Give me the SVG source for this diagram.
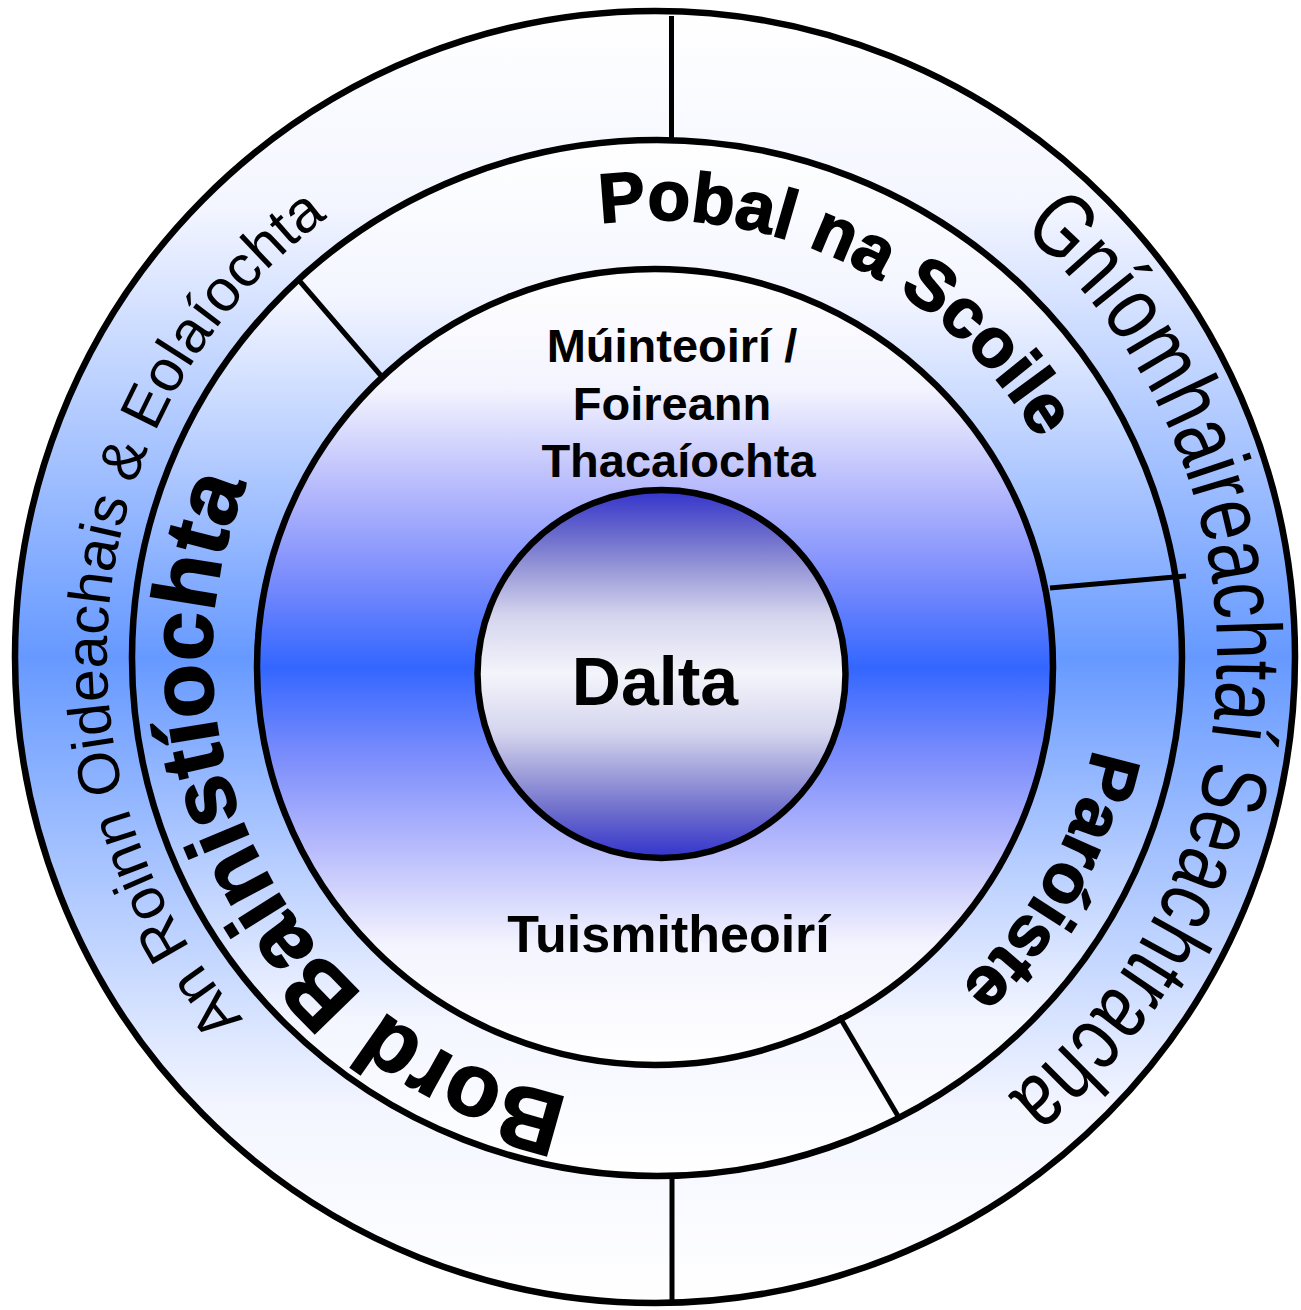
<svg xmlns="http://www.w3.org/2000/svg" xmlns:xlink="http://www.w3.org/1999/xlink" width="1301" height="1310" viewBox="0 0 1301 1310">
  <style>
    .ring { stroke: #000; stroke-width: 6.5; }
    .sep { stroke: #000; stroke-width: 5; fill: none; }
    .lbl { font-family: "Liberation Sans", Arial, sans-serif; fill: #000; }
    .bold { font-weight: bold; }
    .heavy { font-weight: bold; stroke: #000; stroke-width: 1.6; }
  </style>
  <defs>
    <linearGradient id="gOuter" x1="0" y1="0" x2="0" y2="1">
      <stop offset="0" stop-color="#ffffff"/>
      <stop offset="0.15" stop-color="#f4f6ff"/>
      <stop offset="0.5" stop-color="#6699ff"/>
      <stop offset="0.85" stop-color="#f4f6ff"/>
      <stop offset="1" stop-color="#ffffff"/>
    </linearGradient>
    <linearGradient id="gRing2" x1="0" y1="0" x2="0" y2="1">
      <stop offset="0" stop-color="#ffffff"/>
      <stop offset="0.15" stop-color="#f4f6ff"/>
      <stop offset="0.5" stop-color="#6699ff"/>
      <stop offset="0.85" stop-color="#f4f6ff"/>
      <stop offset="1" stop-color="#ffffff"/>
    </linearGradient>
    <linearGradient id="gRing3" x1="0" y1="0" x2="0" y2="1">
      <stop offset="0" stop-color="#ffffff"/>
      <stop offset="0.15" stop-color="#f4f4fe"/>
      <stop offset="0.28" stop-color="#b4b8fc"/>
      <stop offset="0.39" stop-color="#7a8cfc"/>
      <stop offset="0.5" stop-color="#3366ff"/>
      <stop offset="0.61" stop-color="#7a8cfc"/>
      <stop offset="0.72" stop-color="#b4b8fc"/>
      <stop offset="0.85" stop-color="#f4f4fe"/>
      <stop offset="1" stop-color="#ffffff"/>
    </linearGradient>
    <linearGradient id="gCore" x1="0" y1="0" x2="0" y2="1">
      <stop offset="0" stop-color="#3333cc"/>
      <stop offset="0.12" stop-color="#6a6acc"/>
      <stop offset="0.24" stop-color="#a4a4dc"/>
      <stop offset="0.34" stop-color="#d4d4ee"/>
      <stop offset="0.5" stop-color="#f4f4fb"/>
      <stop offset="0.66" stop-color="#d4d4ee"/>
      <stop offset="0.76" stop-color="#a4a4dc"/>
      <stop offset="0.88" stop-color="#6a6acc"/>
      <stop offset="1" stop-color="#3333cc"/>
    </linearGradient>
    <path id="pPobal" d="M 462.04 1054.46 A 440 440 0 1 1 851.96 265.54 A 440 440 0 1 1 462.04 1054.46"/>
    <path id="pParoiste" d="M 268.9 442.2 A 445 445 0 1 1 1045.1 877.8 A 445 445 0 1 1 268.9 442.2"/>
    <path id="pBord" d="M 1050.1 453.6 A 444 444 0 1 1 263.9 866.4 A 444 444 0 1 1 1050.1 453.6"/>
    <path id="pRoinn" d="M 1200.0 714.28 A 548 548 0 1 1 110.0 599.72 A 548 548 0 1 1 1200.0 714.28"/>
    <path id="pGniomh" d="M 93.07 648.17 A 562 562 0 1 1 1216.93 665.83 A 562 562 0 1 1 93.07 648.17"/>
  </defs>

  <g id="outer-ring">
    <ellipse class="ring" cx="655" cy="657" rx="640" ry="646" fill="url(#gOuter)"/>
  </g>
  <g id="school-ring">
    <ellipse class="ring" cx="657" cy="658" rx="525" ry="518" fill="url(#gRing2)"/>
  </g>
  <g id="inner-ring">
    <circle class="ring" cx="655" cy="667" r="398" fill="url(#gRing3)"/>
  </g>
  <g id="core">
    <circle class="ring" cx="661.5" cy="674" r="184" fill="url(#gCore)"/>
  </g>

  <g id="connectors">
    <line class="sep" x1="671.5" y1="16" x2="671.5" y2="138"/>
    <line class="sep" x1="672" y1="1178" x2="672" y2="1301"/>
    <line class="sep" x1="297" y1="278" x2="383" y2="378"/>
    <line class="sep" x1="1050" y1="588" x2="1186" y2="576"/>
    <line class="sep" x1="839" y1="1016" x2="898" y2="1116"/>
  </g>

  <g id="label-roinn">
    <text class="lbl" font-size="59"><textPath xlink:href="#pRoinn" href="#pRoinn" startOffset="50%" text-anchor="middle">An Roinn Oideachais &amp; Eolaíochta</textPath></text>
  </g>
  <g id="label-gniomhaireachtai">
    <text class="lbl" font-size="92"><textPath xlink:href="#pGniomh" href="#pGniomh" startOffset="50%" text-anchor="middle" textLength="987" lengthAdjust="spacingAndGlyphs">Gníomhaireachtaí Seachtracha</textPath></text>
  </g>
  <g id="label-pobal">
    <text class="lbl heavy" font-size="70"><textPath xlink:href="#pPobal" href="#pPobal" startOffset="50%" text-anchor="middle">Pobal na Scoile</textPath></text>
  </g>
  <g id="label-paroiste">
    <text class="lbl heavy" font-size="70"><textPath xlink:href="#pParoiste" href="#pParoiste" startOffset="50%" text-anchor="middle">Paróiste</textPath></text>
  </g>
  <g id="label-bord">
    <text class="lbl heavy" font-size="89"><textPath xlink:href="#pBord" href="#pBord" startOffset="50%" text-anchor="middle">Bord Bainistíochta</textPath></text>
  </g>
  <g id="label-muinteoiri">
    <text class="lbl bold" font-size="47" text-anchor="middle">
      <tspan x="678.5" y="362">Múinteoirí /</tspan>
      <tspan x="678.5" y="420">Foireann</tspan>
      <tspan x="678.5" y="477">Thacaíochta</tspan>
    </text>
  </g>
  <g id="label-tuismitheoiri">
    <text class="lbl bold" font-size="52" x="668.5" y="952" text-anchor="middle">Tuismitheoirí</text>
  </g>
  <g id="label-dalta">
    <text class="lbl bold" font-size="68" x="655" y="705" text-anchor="middle">Dalta</text>
  </g>
</svg>
